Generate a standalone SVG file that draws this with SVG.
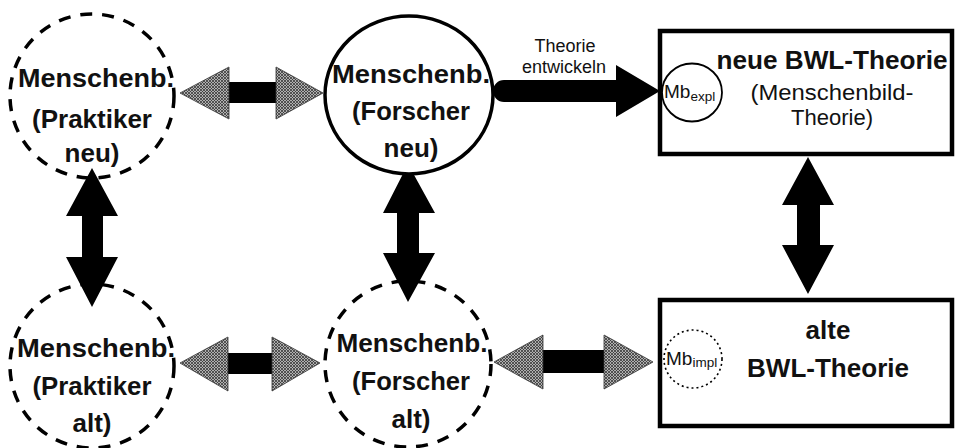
<svg xmlns="http://www.w3.org/2000/svg" width="955" height="448" viewBox="0 0 955 448">
<defs>
<pattern id="hatch" width="3" height="3" patternUnits="userSpaceOnUse">
<rect width="3" height="3" fill="#b0b0b0"/>
<path d="M0,0 L3,3 M3,0 L0,3" stroke="#333" stroke-width="0.75"/>
</pattern>
<style>
.dash{fill:none;stroke:#000;stroke-width:3.5;stroke-dasharray:12 10}
.solid{fill:#fff;stroke:#000;stroke-width:3.5}
.box{fill:#fff;stroke:#000;stroke-width:4.5}
.lb{font-family:"Liberation Sans",Arial,sans-serif;font-weight:bold;font-size:26px;fill:#111;text-anchor:middle}
.lr{font-family:"Liberation Sans",Arial,sans-serif;font-size:22px;fill:#111;text-anchor:middle}
.sm{font-family:"Liberation Sans",Arial,sans-serif;font-size:18px;fill:#111;text-anchor:middle}
.mb{font-family:"Liberation Sans",Arial,sans-serif;font-size:19px;fill:#111}
.blk{fill:#000}
.hat{fill:url(#hatch);stroke:#333;stroke-width:0.8}
</style>
</defs>
<rect width="955" height="448" fill="#fff"/>

<g id="connectors">
<rect class="blk" x="228" y="82" width="50" height="21"/>
<polygon class="hat" points="180,93 229,67 229,119"/>
<polygon class="hat" points="323,93 276,67 276,119"/>
<rect class="blk" x="227" y="353" width="47" height="21"/>
<polygon class="hat" points="180,363 228,337 228,391"/>
<polygon class="hat" points="320,363 272,337 272,391"/>
<rect class="blk" x="542" y="350" width="64" height="23"/>
<polygon class="hat" points="494,362 543,335 543,389"/>
<polygon class="hat" points="653,362 604,335 604,389"/>
<path class="blk" d="M504,80 L616,80 L616,65 L660,91 L616,117 L616,102 L504,102 A11,11 0 0 1 504,80 Z"/>
<polygon class="blk" points="92,168 118,216 103,216 103,257 118,257 92,307 66,257 82,257 82,216 66,216"/>
<polygon class="blk" points="408,164 435,213 419,213 419,253 435,253 408,302 383,253 397,253 397,213 383,213"/>
<polygon class="blk" points="808,157 834,205 820,205 820,245 834,245 808,294 782,245 797,245 797,205 782,205"/>
</g>

<g id="praktiker-neu">
<circle class="dash" cx="92" cy="96" r="82"/>
<text class="lb" x="96" y="87" textLength="156" lengthAdjust="spacingAndGlyphs">Menschenb.</text>
<text class="lb" x="92" y="128" textLength="120" lengthAdjust="spacingAndGlyphs">(Praktiker</text>
<text class="lb" x="92" y="162">neu)</text>
</g>

<g id="forscher-neu">
<ellipse class="solid" cx="409" cy="95" rx="84" ry="79"/>
<text class="lb" x="411" y="83" textLength="158" lengthAdjust="spacingAndGlyphs">Menschenb.</text>
<text class="lb" x="411" y="120" textLength="118" lengthAdjust="spacingAndGlyphs">(Forscher</text>
<text class="lb" x="411" y="157">neu)</text>
</g>

<g id="praktiker-alt">
<circle class="dash" cx="92" cy="366" r="82"/>
<text class="lb" x="96" y="357" textLength="158" lengthAdjust="spacingAndGlyphs">Menschenb.</text>
<text class="lb" x="92" y="395" textLength="119" lengthAdjust="spacingAndGlyphs">(Praktiker</text>
<text class="lb" x="92" y="432">alt)</text>
</g>

<g id="forscher-alt">
<circle class="dash" cx="408" cy="364" r="83"/>
<text class="lb" x="412" y="352" textLength="151" lengthAdjust="spacingAndGlyphs">Menschenb.</text>
<text class="lb" x="411" y="390" textLength="118" lengthAdjust="spacingAndGlyphs">(Forscher</text>
<text class="lb" x="411" y="428">alt)</text>
</g>

<g id="label-theorie">
<text class="sm" x="565" y="52">Theorie</text>
<text class="sm" x="564" y="73">entwickeln</text>
</g>

<g id="neue-theorie">
<rect class="box" x="660" y="31" width="292" height="123"/>
<ellipse cx="692" cy="92.5" rx="30" ry="29" fill="#fff" stroke="#000" stroke-width="1.8"/>
<text class="mb" x="664" y="98">Mb<tspan font-size="13.5" dy="3">expl</tspan></text>
<text class="lb" x="832" y="69" textLength="231" lengthAdjust="spacingAndGlyphs">neue BWL-Theorie</text>
<text class="lr" x="832" y="100" textLength="163" lengthAdjust="spacingAndGlyphs">(Menschenbild-</text>
<text class="lr" x="832" y="125">Theorie)</text>
</g>

<g id="alte-theorie">
<rect class="box" x="660" y="300" width="292" height="126"/>
<ellipse cx="693" cy="359" rx="29" ry="29" fill="#fff" stroke="#000" stroke-width="1.6" stroke-dasharray="2 3"/>
<text class="mb" x="666" y="365">Mb<tspan font-size="13.5" dy="2">impl</tspan></text>
<text class="lb" x="828" y="339">alte</text>
<text class="lb" x="828" y="377" textLength="162" lengthAdjust="spacingAndGlyphs">BWL-Theorie</text>
</g>
</svg>
